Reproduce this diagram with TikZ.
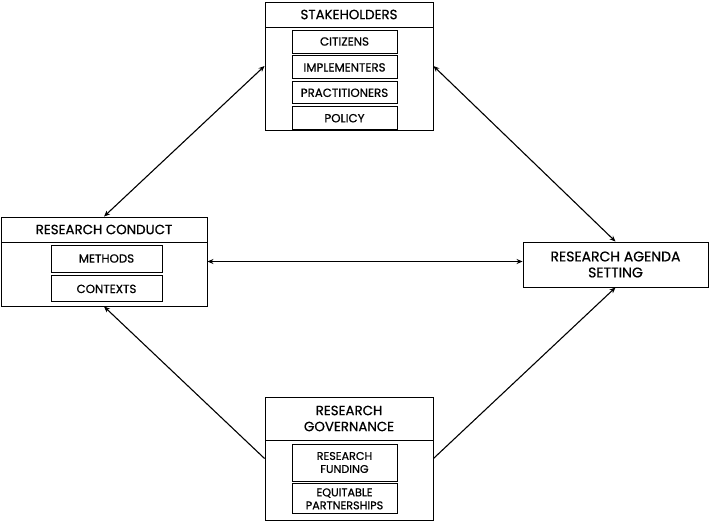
\documentclass[tikz,border=0pt]{standalone}
\usepackage{fontspec}
\setmainfont{Poppins}[FakeBold=0.7]
\usetikzlibrary{positioning, arrows.meta}

\tikzset{
  outerbox/.style={draw=black, line width=0.9pt, inner sep=0pt},
  headbox/.style={draw=black, line width=0.9pt, anchor=north, align=center,
    font=\fontsize{13.4}{15}\selectfont, inner sep=0pt},
  itembox/.style={draw=black, line width=0.9pt, align=center,
    minimum width=105pt, font=\fontsize{11.8}{13}\selectfont, inner sep=0pt},
  link/.style={line width=1.1pt, {Stealth[length=6pt, width=5pt]}-{Stealth[length=6pt, width=5pt]}},
  onelink/.style={line width=1.1pt, -{Stealth[length=6pt, width=5pt]}}
}

\begin{document}
\begin{tikzpicture}[x=1pt, y=1pt]
  \useasboundingbox (0,0) rectangle (709,525);

  % Stakeholders
  \node[outerbox, minimum width=168pt, minimum height=128pt] (stake) at (349,459) {};
  \node[headbox, minimum width=168pt, minimum height=25pt] (stakehead) at (stake.north) {STAKEHOLDERS};
  \node[itembox, minimum height=23pt] (citizens) at (344.5,483.5) {CITIZENS};
  \node[itembox, minimum height=23pt, below=2pt of citizens] (implementers) {IMPLEMENTERS};
  \node[itembox, minimum height=22pt, below=2pt of implementers] (practitioners) {PRACTITIONERS};
  \node[itembox, minimum height=23pt, below=2pt of practitioners] (policy) {POLICY};

  % Research conduct
  \node[outerbox, minimum width=206pt, minimum height=89pt] (conduct) at (104,263.5) {};
  \node[headbox, minimum width=206pt, minimum height=25pt] (conducthead) at (conduct.north) {RESEARCH CONDUCT};
  \node[itembox, minimum width=111pt, minimum height=27pt] (methods) at (106.5,266.5) {METHODS};
  \node[itembox, minimum width=111pt, minimum height=26pt, below=3pt of methods] (contexts) {CONTEXTS};

  % Research agenda setting
  \node[outerbox, minimum width=185pt, minimum height=45pt, align=center,
    font=\fontsize{14}{16}\selectfont] (agenda) at (615.5,260.5) {RESEARCH AGENDA\\SETTING};

  % Research governance
  \node[outerbox, minimum width=168pt, minimum height=123pt] (gov) at (349,66.5) {};
  \node[headbox, minimum width=168pt, minimum height=43pt, font=\fontsize{13.4}{16}\selectfont]
    (govhead) at (gov.north) {RESEARCH\\GOVERNANCE};
  \node[itembox, minimum height=37pt, font=\fontsize{11.2}{13}\selectfont] (funding) at (344.5,62.5) {RESEARCH\\FUNDING};
  \node[itembox, minimum height=30pt, font=\fontsize{11.2}{13}\selectfont, below=2pt of funding] (partner) {EQUITABLE\\PARTNERSHIPS};

  % Connectors
  \draw[link] (stake.west) -- (conduct.north);
  \draw[link] (stake.east) -- (agenda.north);
  \draw[link] (conduct.east) -- (conduct.east -| agenda.west);
  \draw[onelink] (gov.west) -- (conduct.south);
  \draw[onelink] (gov.east) -- (agenda.south);
\end{tikzpicture}
\end{document}
